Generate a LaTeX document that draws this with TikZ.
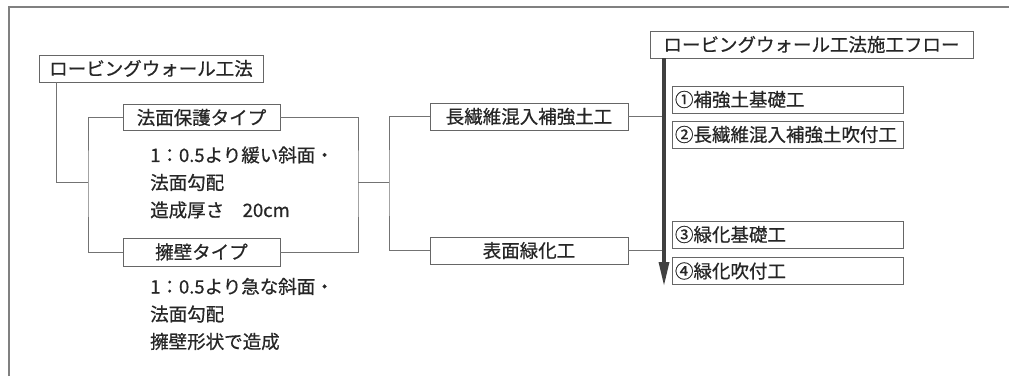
\documentclass[tikz,border=0pt]{standalone}
\usepackage{fontspec}
\newfontfamily\jp[FakeBold=0.6]{Noto Sans CJK JP}
\usetikzlibrary{arrows.meta}
\begin{document}
\begin{tikzpicture}[x=1pt,y=-1pt,
  every node/.style={font=\jp\fontsize{18.5}{22}\selectfont, text=black!85},
  box/.style={draw=black!60, line width=0.9pt, fill=white, inner sep=0pt, minimum height=#1},
  box/.default=27,
  conn/.style={draw=black!55, line width=0.9pt},
  frameline/.style={draw=black!50, line width=1.2pt},
  flowarrow/.style={draw=black!75, fill=black!75, line width=3.2pt, -{Triangle[width=10pt,length=24pt]}},
  desc/.style={anchor=west, align=left, inner sep=0pt, font=\jp\fontsize{18.5}{27.5}\selectfont}
]
\useasboundingbox[fill=white] (0,0) rectangle (1009,376);
\draw[frameline] (9,376) -- (9,7) -- (1009,7);

% left boxes
\node[box, minimum width=224pt] (main) at (151,68.5) {ロービングウォール工法};
\node[box=26, minimum width=157pt] (hogo) at (201.5,117.5) {法面保護タイプ};
\node[box=28, minimum width=157pt] (yoheki) at (201.5,252) {擁壁タイプ};
\node[desc] (d1) at (150,182.5) {1：0.5より緩い斜面・\\法面勾配\\造成厚さ　20cm};
\node[desc] (d2) at (150,314) {1：0.5より急な斜面・\\法面勾配\\擁壁形状で造成};

% middle boxes
\node[box, minimum width=198pt] (chou) at (529,116.5) {長繊維混入補強土工};
\node[box, minimum width=198pt] (hyomen) at (529,250.5) {表面緑化工};

% right flow
\node[box, minimum width=323pt] (flow) at (811.5,44.5) {ロービングウォール工法施工フロー};
\node[box, minimum width=231pt, text width=225pt, align=left] (s1) at (787.5,99.5) {①補強土基礎工};
\node[box, minimum width=231pt, text width=225pt, align=left] (s2) at (787.5,134.5) {②長繊維混入補強土吹付工};
\node[box, minimum width=231pt, text width=225pt, align=left] (s3) at (787.5,234.5) {③緑化基礎工};
\node[box, minimum width=231pt, text width=225pt, align=left] (s4) at (787.5,271) {④緑化吹付工};

% connectors
\coordinate (La) at (88,182.5);
\coordinate (Ra) at (358,182.5);
\coordinate (Rb) at (389,182.5);
\coordinate (aend) at (664,286);
\draw[conn] ([xshift=18pt]main.south west) |- (La);
\draw[conn] (hogo.west) -| (La) |- (yoheki.west);
\draw[conn] (hogo.east) -| (Ra) |- (yoheki.east);
\draw[conn] (Ra) -- (Rb);
\draw[conn] (chou.west) -| (Rb) |- (hyomen.west);
\draw[conn] (chou.east) -- (chou.east -| aend);
\draw[conn] (hyomen.east) -- (hyomen.east -| aend);
\draw[flowarrow] (flow.south -| aend) -- (aend);
\end{tikzpicture}
\end{document}
